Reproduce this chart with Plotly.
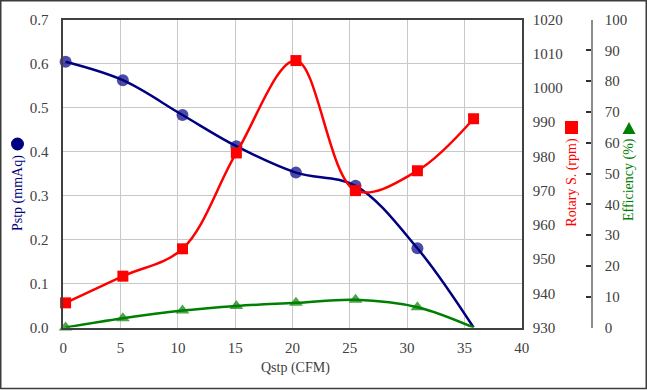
import plotly.graph_objects as go

# ---- data ----
flow_cfm = [0.2, 5.2, 10.4, 15.1, 20.3, 25.5, 30.9, 35.8]
pstp_mmaq = [0.604, 0.562, 0.483, 0.412, 0.352, 0.322, 0.180, 0.0]
rotary_rpm = [937.2, 945.0, 953.0, 981.0, 1008.0, 970.0, 975.8, 991.0]
efficiency_pct = [0.0, 3.0, 5.5, 7.0, 8.0, 9.0, 6.6, 0.0]

x_ticks = [0, 5, 10, 15, 20, 25, 30, 35, 40]
W, H = 647, 390

def px(x):
    return x / W

def py(y):
    return 1 - y / H

FONT = "Liberation Serif"
TICKC = "#404040"
NAVY = "#000080"
RED = "#ff0000"
GREEN = "#008000"

def msizes(n, s):
    return [s] * (n - 1) + [0]

fig = go.Figure()

fig.add_trace(go.Scatter(
    x=flow_cfm, y=efficiency_pct, yaxis="y3", mode="lines+markers",
    line=dict(color=GREEN, width=2.5, shape="spline", smoothing=1),
    marker=dict(symbol="triangle-up", size=msizes(len(flow_cfm), 12), color=GREEN,
                line=dict(width=0)),
    cliponaxis=False, showlegend=False))

fig.add_trace(go.Scatter(
    x=flow_cfm, y=pstp_mmaq, yaxis="y", mode="lines+markers",
    line=dict(color=NAVY, width=2.5, shape="spline", smoothing=1),
    marker=dict(symbol="circle", size=msizes(len(flow_cfm), 12), color=NAVY,
                line=dict(width=0)),
    cliponaxis=False, showlegend=False))

fig.add_trace(go.Scatter(
    x=flow_cfm, y=rotary_rpm, yaxis="y2", mode="lines+markers",
    line=dict(color=RED, width=2.5, shape="spline", smoothing=1),
    marker=dict(symbol="square", size=11, color=RED, line=dict(width=0)),
    cliponaxis=False, showlegend=False))

xd = [px(63.3), px(521.7)]
yd = [py(327.5), py(19.5)]

tf = dict(family=FONT, size=15, color=TICKC)

fig.update_layout(
    width=W, height=H,
    margin=dict(l=0, r=0, t=0, b=0, autoexpand=False),
    paper_bgcolor="white", plot_bgcolor="white",
    font=dict(family=FONT, size=15, color=TICKC),
    xaxis=dict(domain=xd, range=[0, 40], tickvals=x_ticks, automargin=False,
               showgrid=True, gridcolor="#c8c8c8", gridwidth=1,
               showline=True, linecolor="#404040", linewidth=1.5, mirror=True,
               ticks="", ticklabelstandoff=6, zeroline=False, tickfont=tf),
    yaxis=dict(domain=yd, range=[0, 0.7], dtick=0.1, tickformat=".1f", automargin=False,
               showgrid=True, gridcolor="#c8c8c8", gridwidth=1,
               showline=True, linecolor="#404040", linewidth=1.5, mirror=True,
               ticks="", ticklabelstandoff=10, zeroline=False, tickfont=tf),
    yaxis2=dict(overlaying="y", side="right", anchor="x", range=[930, 1020], dtick=10,
                automargin=False, showgrid=False, showline=False, ticks="", zeroline=False,
                ticklabelstandoff=10, tickfont=tf),
    yaxis3=dict(overlaying="y", side="right", anchor="free", position=px(592),
                range=[0, 100], dtick=10, showgrid=False, zeroline=False, automargin=False,
                showline=True, linecolor="#8c8c8c", linewidth=1.5,
                ticks="inside", ticklen=5, tickcolor="#303030", tickwidth=1.5,
                ticklabelstandoff=9, tickfont=tf),
)

ann = [
    dict(text="Pstp (mmAq)", x=px(17.5), y=py(193.5), textangle=-90, color=NAVY),
    dict(text="Rotary S. (rpm)", x=px(571.7), y=py(182), textangle=-90, color=RED),
    dict(text="Efficiency (%)", x=px(629), y=py(180), textangle=-90, color=GREEN),
    dict(text="Qstp (CFM)", x=px(295), y=py(368), textangle=0, color=TICKC),
]
for a in ann:
    fig.add_annotation(text=a["text"], x=a["x"], y=a["y"], xref="paper", yref="paper",
                       showarrow=False, textangle=a["textangle"],
                       xanchor="center", yanchor="middle",
                       font=dict(family=FONT, size=14, color=a["color"]))

# legend-like markers next to axis titles
fig.add_shape(type="circle", xref="paper", yref="paper",
              x0=px(11), x1=px(24), y0=py(150.5), y1=py(137.5),
              fillcolor=NAVY, line=dict(color=NAVY, width=0))
fig.add_shape(type="rect", xref="paper", yref="paper",
              x0=px(565), x1=px(578), y0=py(134), y1=py(121),
              fillcolor=RED, line=dict(color=RED, width=0))
fig.add_shape(type="path", xref="paper", yref="paper",
              path=f"M {px(629)},{py(122)} L {px(635.5)},{py(134)} L {px(622.5)},{py(134)} Z",
              fillcolor=GREEN, line=dict(color=GREEN, width=0))

# outer frame
fig.add_shape(type="rect", xref="paper", yref="paper",
              x0=px(0.75), x1=px(646.25), y0=py(388.5), y1=py(0.75),
              line=dict(color="#3c3c3c", width=1.5), fillcolor="rgba(0,0,0,0)")

fig.write_html("out.html",
               config={"displayModeBar": False},
               post_script="document.body.style.margin='0';document.body.style.padding='0';")
